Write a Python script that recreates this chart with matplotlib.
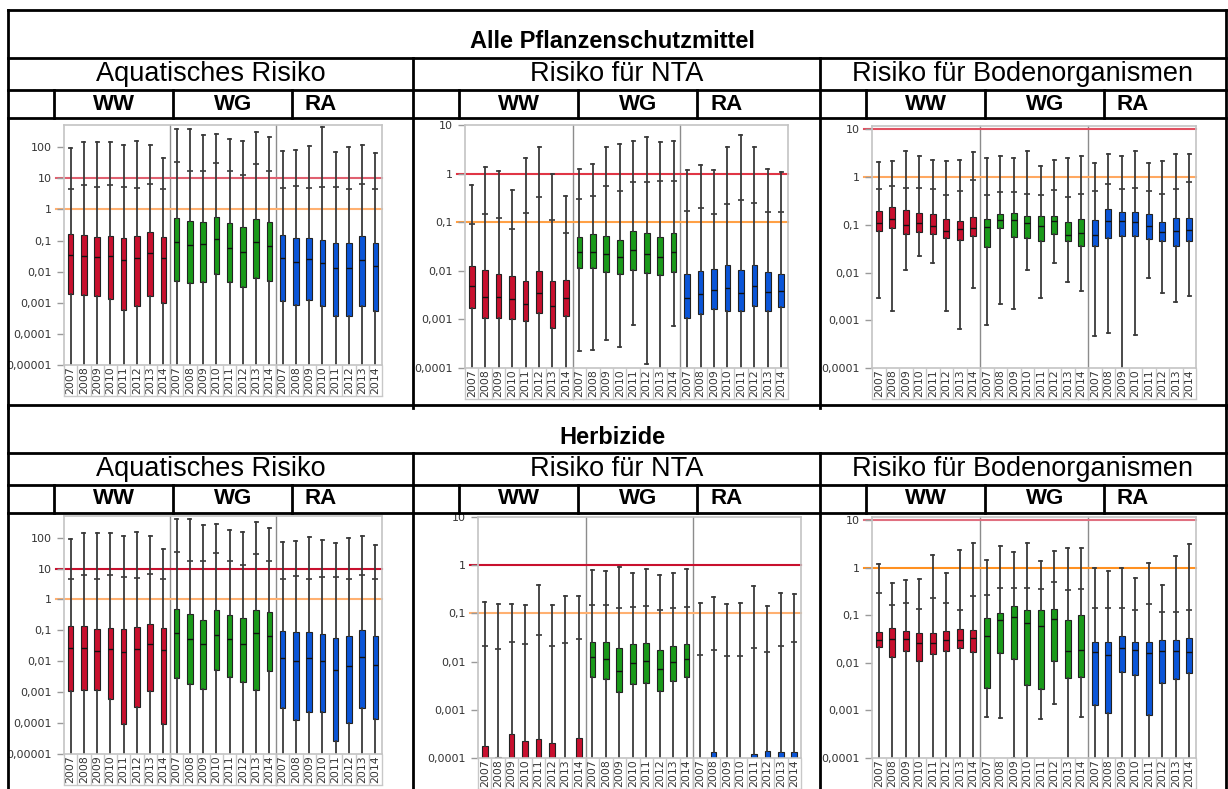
import numpy as np
import matplotlib
matplotlib.use("Agg")
import matplotlib.pyplot as plt
from matplotlib.lines import Line2D
from matplotlib.ticker import FixedLocator, FuncFormatter

W, H = 1228, 789

years = ["2007", "2008", "2009", "2010", "2011", "2012", "2013", "2014"]
groups = ["WW", "WG", "RA"]
risks = ["Aquatisches Risiko", "Risiko für NTA", "Risiko für Bodenorganismen"]
sections = ["Alle Pflanzenschutzmittel", "Herbizide"]
group_colors = ["#c8102e", "#1a9a1a", "#0a55d8"]

# ---- Alle Pflanzenschutzmittel, Aquatisches Risiko (WW, WG, RA x 2007..2014)
a_hi = [93, 145, 145, 145, 118, 160, 118, 44,
        390, 390, 250, 270, 180, 160, 310, 215,
        76, 82, 110, 460, 71, 100, 118, 66]
a_q3 = [0.16, 0.15, 0.13, 0.14, 0.12, 0.14, 0.19, 0.13,
        0.52, 0.43, 0.39, 0.59, 0.36, 0.27, 0.48, 0.39,
        0.15, 0.12, 0.12, 0.105, 0.083, 0.083, 0.14, 0.083]
a_med = [0.035, 0.032, 0.030, 0.032, 0.024, 0.028, 0.040, 0.028,
         0.09, 0.072, 0.078, 0.115, 0.059, 0.042, 0.09, 0.067,
         0.028, 0.021, 0.026, 0.0195, 0.0135, 0.0135, 0.0245, 0.0158]
a_q1 = [0.0019, 0.0018, 0.0017, 0.0013, 0.0006, 0.0008, 0.0016, 0.001,
        0.0049, 0.0043, 0.0046, 0.0085, 0.0046, 0.0033, 0.0063, 0.0052,
        0.00115, 0.00085, 0.0012, 0.0008, 0.00037, 0.00037, 0.0008, 0.00055]
a_lo = [1e-6] * 24
a_p99 = [4.6, 6.1, 5.3, 6.1, 5.3, 4.9, 6.6, 4.6,
         34, 17, 17, 31, 17, 13, 30, 17,
         4.9, 5.7, 4.9, 5.3, 5.3, 4.6, 6.6, 4.6]

# ---- Alle Pflanzenschutzmittel, Risiko für NTA
b_hi = [0.58, 1.39, 1.15, 0.46, 2.1, 3.47, 0.97, 0.35,
        1.26, 1.58, 3.47, 4.0, 4.6, 5.6, 4.4, 4.6,
        1.2, 1.5, 1.2, 3.47, 6.2, 3.47, 1.26, 1.1]
b_q3 = [0.0128, 0.0102, 0.0085, 0.0078, 0.0063, 0.0098, 0.0063, 0.0066,
        0.049, 0.056, 0.051, 0.044, 0.067, 0.061, 0.049, 0.059,
        0.0085, 0.0098, 0.0107, 0.0134, 0.0102, 0.0134, 0.0093, 0.0085]
b_med = [0.0049, 0.0029, 0.0029, 0.0026, 0.0021, 0.0035, 0.00186, 0.0027,
         0.024, 0.0246, 0.0218, 0.019, 0.027, 0.0225, 0.019, 0.024,
         0.0027, 0.0033, 0.0041, 0.0045, 0.0035, 0.0049, 0.0036, 0.0038]
b_q1 = [0.00174, 0.00105, 0.00105, 0.001, 0.00091, 0.00133, 0.00066, 0.00115,
        0.0116, 0.0116, 0.0093, 0.0085, 0.0102, 0.009, 0.0082, 0.0096,
        0.00105, 0.00127, 0.0016, 0.0015, 0.00147, 0.0019, 0.00147, 0.00183]
b_lo = [1e-5] * 8 + [0.00022, 0.00023, 0.00038, 0.00027, 0.00075, 0.00012, 1e-5, 0.00072] + [1e-5] * 8
b_p99 = [0.091, 0.145, 0.12, 0.071, 0.152, 0.33, 0.11, 0.06,
         0.3, 0.35, 0.56, 0.44, 0.66, 0.68, 0.72, 0.72,
         0.17, 0.2, 0.145, 0.237, 0.29, 0.25, 0.165, 0.165]

# ---- Alle Pflanzenschutzmittel, Risiko für Bodenorganismen
c_hi = [2.1, 2.2, 3.55, 2.7, 2.3, 2.2, 2.3, 3.4,
        2.55, 2.8, 2.55, 3.55, 1.73, 2.3, 2.55, 2.7,
        2.0, 3.1, 2.7, 3.55, 2.0, 2.2, 3.1, 3.1]
c_q3 = [0.195, 0.23, 0.204, 0.174, 0.166, 0.13, 0.118, 0.144,
        0.134, 0.166, 0.174, 0.15, 0.15, 0.15, 0.113, 0.13,
        0.124, 0.211, 0.182, 0.182, 0.166, 0.113, 0.137, 0.137]
c_med = [0.107, 0.132, 0.1, 0.107, 0.093, 0.073, 0.08, 0.085,
         0.089, 0.126, 0.126, 0.107, 0.093, 0.118, 0.06, 0.066,
         0.06, 0.118, 0.118, 0.113, 0.093, 0.069, 0.073, 0.076]
c_q1 = [0.073, 0.085, 0.065, 0.069, 0.063, 0.052, 0.047, 0.059,
        0.035, 0.085, 0.055, 0.052, 0.045, 0.063, 0.045, 0.0365,
        0.0365, 0.052, 0.059, 0.057, 0.05, 0.045, 0.0365, 0.045]
c_lo = [0.0029, 0.00155, 0.0115, 0.022, 0.0155, 0.00155, 0.00066, 0.0048,
        0.00079, 0.0022, 0.0017, 0.0115, 0.0029, 0.0155, 0.0062, 0.0041,
        0.00046, 0.00053, 1e-5, 0.00048, 0.0078, 0.0037, 0.0024, 0.0032]
c_p99 = [0.56, 0.66, 0.59, 0.59, 0.56, 0.41, 0.52, 0.85,
         0.43, 0.48, 0.48, 0.44, 0.43, 0.54, 0.39, 0.45,
         0.5, 0.7, 0.56, 0.59, 0.52, 0.45, 0.55, 0.77]

# ---- Herbizide, Aquatisches Risiko
d_hi = [93, 145, 145, 145, 116, 156, 116, 44,
        390, 390, 250, 270, 180, 156, 310, 210,
        74, 80, 107, 86, 69, 100, 116, 59]
d_q3 = [0.138, 0.138, 0.11, 0.122, 0.11, 0.128, 0.16, 0.122,
        0.49, 0.33, 0.22, 0.46, 0.31, 0.26, 0.46, 0.38,
        0.095, 0.089, 0.089, 0.076, 0.055, 0.066, 0.1, 0.064]
d_med = [0.026, 0.026, 0.021, 0.0245, 0.0195, 0.0245, 0.035, 0.0225,
         0.08, 0.051, 0.035, 0.073, 0.051, 0.035, 0.08, 0.064,
         0.0125, 0.01, 0.0125, 0.01, 0.0051, 0.0069, 0.0134, 0.0074]
d_q1 = [0.00107, 0.00115, 0.00115, 0.00062, 9.1e-5, 0.00032, 0.00107, 9.1e-5,
        0.0029, 0.0019, 0.0013, 0.0051, 0.003, 0.0021, 0.0012, 0.0047,
        0.0003, 0.000126, 0.00023, 0.00023, 2.7e-5, 0.0001, 0.0003, 0.000135]
d_lo = [1e-6] * 24
d_p99 = [4.5, 6, 4.7, 6, 5.2, 4.8, 6.6, 4.5,
         33, 17, 17, 31, 17, 13, 30, 17,
         4.5, 5.6, 4.5, 5.2, 5.2, 4.5, 6, 4.5]

# ---- Herbizide, Risiko für NTA (boxes below 0,0001 are cut off)
e_hi = [0.17, 0.153, 0.153, 0.148, 0.38, 0.148, 0.228, 0.228,
        0.79, 0.76, 0.91, 0.69, 0.83, 0.62, 0.69, 0.83,
        0.163, 0.218, 0.155, 0.163, 0.365, 0.142, 0.266, 0.25]
e_q3 = [0.000174, 0.000107, 0.00032, 0.00023, 0.00025, 0.0002, 5e-5, 0.000266,
        0.026, 0.025, 0.0188, 0.0228, 0.024, 0.0178, 0.0208, 0.0228,
        5e-5, 0.000131, 5e-5, 5e-5, 0.000123, 0.00014, 0.000135, 0.000135]
e_med = [5e-5] * 8 + [0.0123, 0.0112, 0.0063, 0.0093, 0.0102, 0.0069, 0.0097, 0.0112] + [5e-5] * 8
e_q1 = [4e-5] * 8 + [0.0047, 0.0044, 0.0023, 0.0034, 0.0036, 0.0025, 0.0039, 0.0049] + [4e-5] * 8
e_lo = [1e-5] * 24
e_p99 = [0.0206, 0.018, 0.026, 0.023, 0.036, 0.0215, 0.024, 0.03,
         0.15, 0.15, 0.13, 0.135, 0.14, 0.12, 0.127, 0.135,
         0.0135, 0.017, 0.013, 0.013, 0.019, 0.0155, 0.0215, 0.025]

# ---- Herbizide, Risiko für Bodenorganismen
f_hi = [1.18, 0.49, 0.56, 0.59, 1.82, 0.76, 2.35, 3.4,
        1.43, 2.85, 2.2, 3.3, 1.36, 2.3, 2.55, 2.55,
        0.97, 0.84, 0.97, 0.62, 1.24, 0.44, 1.74, 3.15]
f_q3 = [0.044, 0.054, 0.0467, 0.0424, 0.0424, 0.046, 0.051, 0.049,
        0.087, 0.111, 0.155, 0.128, 0.128, 0.135, 0.079, 0.1,
        0.028, 0.027, 0.0365, 0.028, 0.028, 0.0296, 0.0296, 0.033]
f_med = [0.031, 0.0316, 0.032, 0.026, 0.026, 0.03, 0.03, 0.0331,
         0.037, 0.079, 0.091, 0.069, 0.06, 0.085, 0.0178, 0.0186,
         0.0169, 0.0146, 0.0205, 0.0186, 0.0162, 0.0178, 0.0178, 0.0169]
f_q1 = [0.0215, 0.0132, 0.0174, 0.0107, 0.0154, 0.0174, 0.0205, 0.0169,
        0.0029, 0.0161, 0.012, 0.0034, 0.0028, 0.0107, 0.0047, 0.005,
        0.00131, 0.00089, 0.0063, 0.0055, 0.00081, 0.0037, 0.0045, 0.006]
f_lo = [1e-5] * 8 + [0.00074, 0.00068, 1e-4, 1e-5, 0.00066, 0.00134, 1e-5, 0.00074] + [1e-5] * 8
f_p99 = [0.295, 0.168, 0.185, 0.138, 0.23, 0.185, 0.13, 0.26,
         0.27, 0.38, 0.38, 0.38, 0.365, 0.5, 0.34, 0.365,
         0.14, 0.14, 0.14, 0.13, 0.175, 0.12, 0.12, 0.132]

panels = [
    # stats, y-range, thresholds (red, orange), line colours, axes box in px (l, r, t, b)
    dict(s=(a_lo, a_q1, a_med, a_q3, a_hi), p99=a_p99, ylim=(1e-5, 520), thr=(10, 1),
         lc=("#e06070", "#ffb070"), box=(64, 382, 125, 365)),
    dict(s=(b_lo, b_q1, b_med, b_q3, b_hi), p99=b_p99, ylim=(1e-4, 10), thr=(1, 0.1),
         lc=("#e03545", "#ffa045"), box=(465, 788, 125, 368)),
    dict(s=(c_lo, c_q1, c_med, c_q3, c_hi), p99=c_p99, ylim=(1e-4, 11.7), thr=(10, 1),
         lc=("#e05060", "#ffa860"), box=(872, 1196, 126, 368)),
    dict(s=(d_lo, d_q1, d_med, d_q3, d_hi), p99=d_p99, ylim=(1e-5, 500), thr=(10, 1),
         lc=("#c8102e", "#ffb070"), box=(64, 382, 516, 754)),
    dict(s=(e_lo, e_q1, e_med, e_q3, e_hi), p99=e_p99, ylim=(1e-4, 10), thr=(1, 0.1),
         lc=("#c8102e", "#ffb070"), box=(478, 801, 517, 758)),
    dict(s=(f_lo, f_q1, f_med, f_q3, f_hi), p99=f_p99, ylim=(1e-4, 11.7), thr=(10, 1),
         lc=("#e07080", "#ff9020"), box=(872, 1196, 517, 758)),
]


def fx(x):
    return x / W


def fy(y):
    return 1 - y / H


def de_fmt(v, pos):
    return np.format_float_positional(v, trim="-").replace(".", ",")


fig = plt.figure(figsize=(W / 100, H / 100), dpi=100)


def hline(y, x0, x1):
    fig.add_artist(Line2D([fx(x0), fx(x1)], [fy(y), fy(y)], color="black", lw=2))


def vline(x, y0, y1):
    fig.add_artist(Line2D([fx(x), fx(x)], [fy(y0), fy(y1)], color="black", lw=2))


# table grid
cols = [8, 413, 820, 1226]
sub = [46, 165, 284]
for top in (10, 405):
    r1, r2, r3 = top + 48, top + 80, top + 108
    for y in (top, r1, r2, r3):
        hline(y, cols[0], cols[-1])
    vline(cols[0], top, r3 + 290)
    vline(cols[-1], top, r3 + 290)
    for c in cols[1:-1]:
        vline(c, r1, r3 + 290)
    for c in cols[:-1]:
        for s in sub:
            vline(c + s, r2, r3)

for k, top in enumerate((10, 405)):
    fig.text(fx(612), fy(top + 32), sections[k], ha="center", va="center",
             fontsize=17, fontweight="bold", family="Liberation Sans")
    for j in range(3):
        c = cols[j]
        fig.text(fx((c + cols[j + 1]) / 2), fy(top + 64), risks[j], ha="center", va="center",
                 fontsize=19.5, family="Liberation Sans")
        fig.text(fx(c + 106), fy(top + 94), groups[0], ha="center", va="center",
                 fontsize=16, fontweight="bold", family="Liberation Sans")
        fig.text(fx(c + 225), fy(top + 94), groups[1], ha="center", va="center",
                 fontsize=16, fontweight="bold", family="Liberation Sans")
        fig.text(fx(c + 297), fy(top + 94), groups[2], ha="left", va="center",
                 fontsize=16, fontweight="bold", family="Liberation Sans")

pos = np.arange(1, 25)
labels = years * 3

for p in panels:
    l, r, t, b = p["box"]
    ax = fig.add_axes([fx(l), fy(b), fx(r) - fx(l), fy(t) - fy(b)])
    lo, q1, med, q3, hi = p["s"]
    stats = [dict(whislo=lo[i], q1=q1[i], med=med[i], q3=q3[i], whishi=hi[i])
             for i in range(24)]
    bp = ax.bxp(stats, positions=pos, widths=0.42, showfliers=False, patch_artist=True,
                capwidths=0.22,
                boxprops=dict(edgecolor="#222222", lw=0.8),
                whiskerprops=dict(color="#3a3a3a", lw=1.3),
                capprops=dict(color="#3a3a3a", lw=1.3),
                medianprops=dict(color="#111111", lw=1.0))
    for i, patch in enumerate(bp["boxes"]):
        patch.set_facecolor(group_colors[i // 8])
    ax.plot(pos, p["p99"], ls="none", marker="_", ms=4, mew=1.2, color="#3a3a3a")
    ax.set_yscale("log")
    ax.set_ylim(*p["ylim"])
    ax.set_xlim(0.5, 24.5)
    red, orange = p["thr"]
    ax.axhline(red, xmin=-0.025, xmax=1, color=p["lc"][0], lw=1.5, clip_on=False, zorder=1)
    ax.axhline(orange, xmin=-0.025, xmax=1, color=p["lc"][1], lw=1.5, clip_on=False, zorder=1)
    hpx = b - t
    drop = 31 / hpx
    for xs in (8.5, 16.5):
        ax.axvline(xs, ymin=-drop, ymax=1, color="#8c8c8c", lw=1, clip_on=False, zorder=0.5)
    ax.plot([0, 1], [-drop, -drop], transform=ax.transAxes, color="#c8c8c8", lw=1,
            clip_on=False)
    for sp in ax.spines.values():
        sp.set_color("#c4c4c4")
        sp.set_linewidth(1.2)
    decades = [10.0 ** k for k in range(-5, 3)]
    ax.yaxis.set_major_locator(FixedLocator([d for d in decades
                                             if p["ylim"][0] <= d <= p["ylim"][1] * 1.01]))
    ax.yaxis.set_minor_locator(FixedLocator([]))
    ax.yaxis.set_major_formatter(FuncFormatter(de_fmt))
    ax.tick_params(axis="y", labelsize=8, labelcolor="#333333", color="#9a9a9a",
                   length=5, width=1)
    ax.set_xticks(pos)
    ax.set_xticklabels(labels, rotation=90, fontsize=7.8, color="#333333")
    ax.tick_params(axis="x", which="major", length=0, pad=1)
    ax.set_xticks(np.arange(0.5, 25, 1), minor=True)
    ax.tick_params(axis="x", which="minor", length=31 * 0.72, color="#c8c8c8", width=1)

fig.savefig("out.png", dpi=100)
